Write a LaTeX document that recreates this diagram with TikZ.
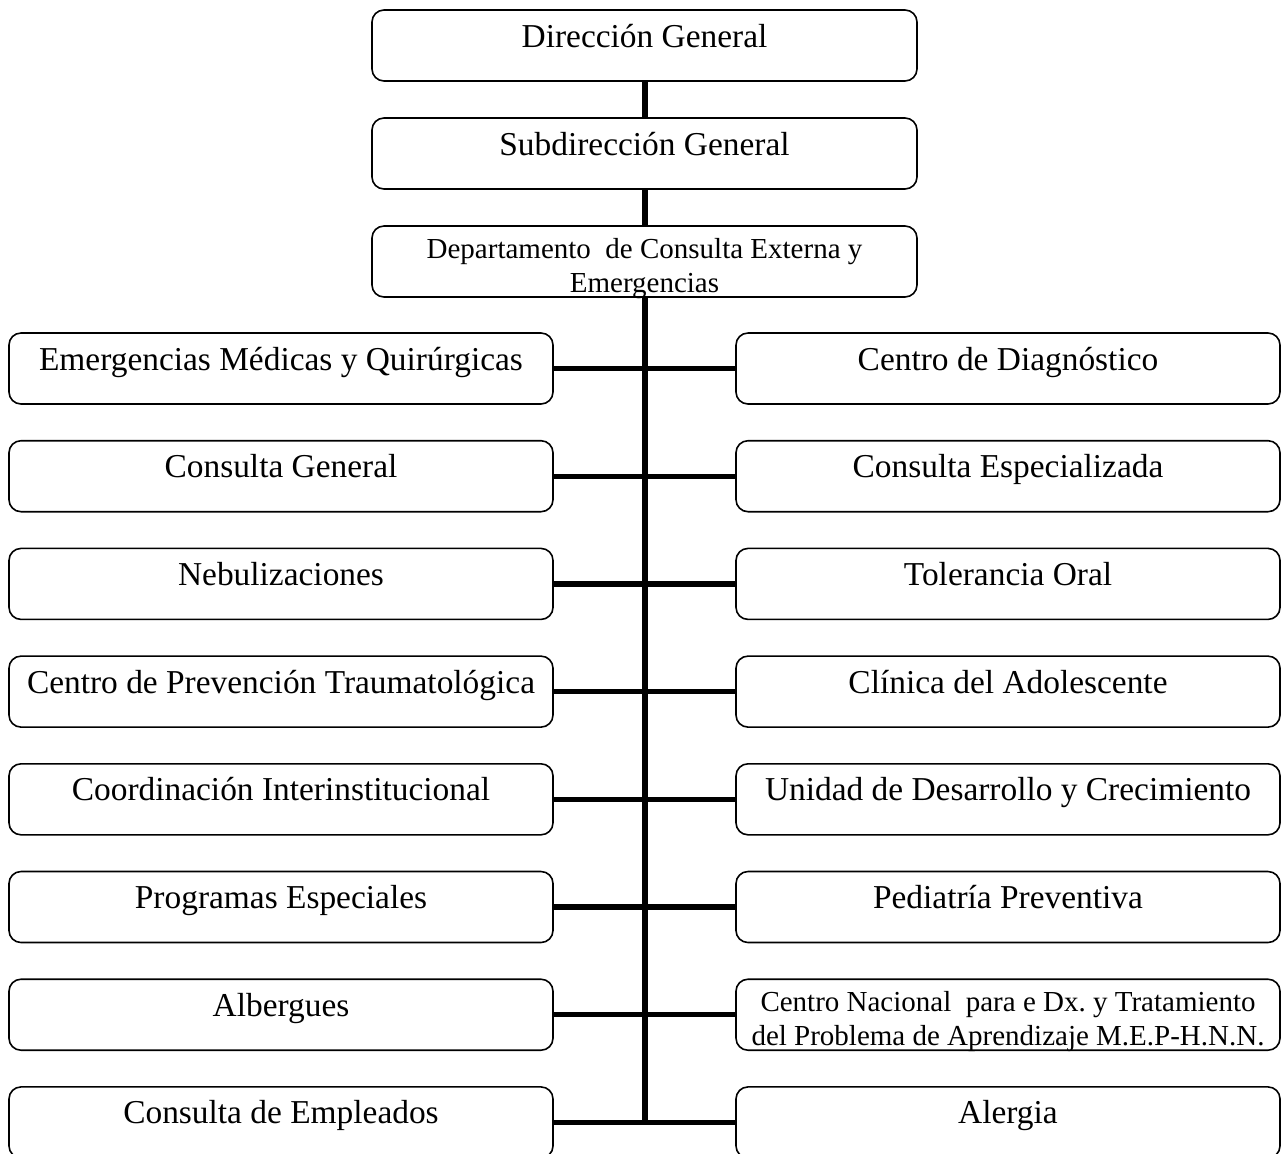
\documentclass[tikz,border=0pt]{standalone}
\usepackage{fontspec}
\setmainfont{Liberation Serif}
\usetikzlibrary{positioning}
\frenchspacing
\tikzset{
 unit/.style
  = {rectangle, draw, rounded corners=6pt, line width=0.8pt, minimum width=272pt,
     minimum height=35.5pt, inner sep=0pt, text height=18.5pt, text depth=17pt,
     font=\fontsize{16.7}{19}\selectfont},
 unitt/.style
  = {unit, font=\fontsize{14.5}{16.7}\selectfont, align=center,
     text height=33pt, text depth=2.5pt},
 link/.style
  = {draw, line width=2.6pt},
 trunk/.style
  = {draw, line width=3pt},
}
\begin{document}
\begin{tikzpicture}[x=0.5pt, y=-0.5pt, node distance=17.55pt]
\useasboundingbox (0,0) rectangle (1283,1153);
% upper levels
\node (dg) [unit, minimum width=272.5pt] at (644.5,45.5) {Dirección General};
\node (sdg) [unit, minimum width=272.5pt, below=17.7pt of dg] {Subdirección General};
\node (dce) [unitt, minimum width=272.5pt, below=17.7pt of sdg] {Departamento~ de Consulta Externa y\\Emergencias};
% left column
\node (emq) [unit] at (281,368.5) {Emergencias Médicas y Quirúrgicas};
\node (cg) [unit, below=of emq] {Consulta General};
\node (neb) [unit, below=of cg] {Nebulizaciones};
\node (cpt) [unit, below=of neb] {Centro de Prevención Traumatológica};
\node (ci) [unit, below=of cpt] {Coordinación Interinstitucional};
\node (pe) [unit, below=of ci] {Programas Especiales};
\node (alb) [unit, below=of pe] {Albergues};
\node (cemp) [unit, below=of alb] {Consulta de Empleados};
% right column
\node (cdiag) [unit, right=90.7pt of emq] {Centro de Diagnóstico};
\node (cesp) [unit, right=90.7pt of cg] {Consulta Especializada};
\node (tor) [unit, right=90.7pt of neb] {Tolerancia Oral};
\node (cad) [unit, right=90.7pt of cpt] {Clínica del Adolescente};
\node (udc) [unit, right=90.7pt of ci] {Unidad de Desarrollo y Crecimiento};
\node (ppv) [unit, right=90.7pt of pe] {Pediatría Preventiva};
\node (cnap) [unitt, right=90.7pt of alb] {Centro Nacional~ para e Dx. y Tratamiento\\del Problema de Aprendizaje M.E.P-H.N.N.};
\node (alg) [unit, right=90.7pt of cemp] {Alergia};
% connectors
\coordinate (bot) at (dce.south |- cemp.east);
\draw [trunk] (dg) -- (sdg);
\draw [trunk] (sdg) -- (dce);
\draw [trunk] (dce.south) -- (bot);
\draw [link] (emq) -- (cdiag);
\draw [link] (cg) -- (cesp);
\draw [link] (neb) -- (tor);
\draw [link] (cpt) -- (cad);
\draw [link] (ci) -- (udc);
\draw [link] (pe) -- (ppv);
\draw [link] (alb) -- (cnap);
\draw [link] (cemp) -- (alg);
\end{tikzpicture}
\end{document}
